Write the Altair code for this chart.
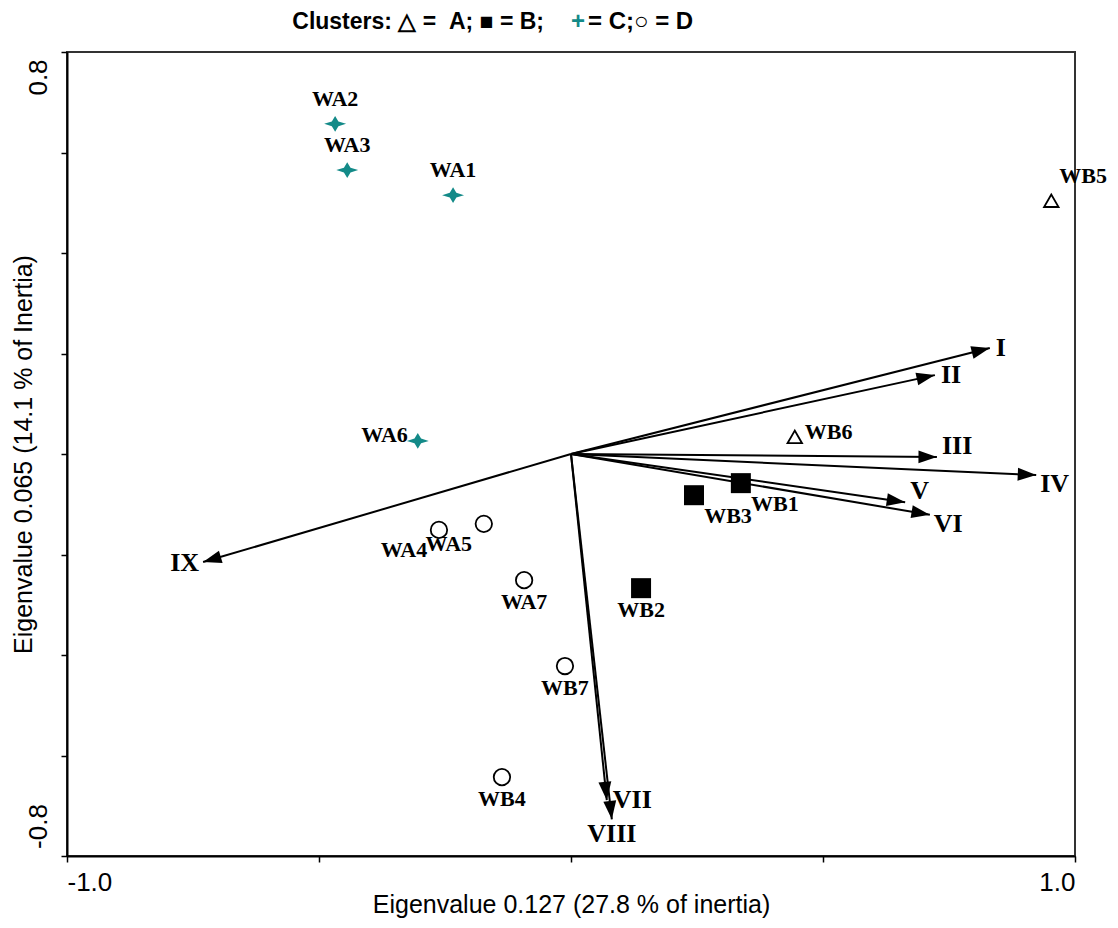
import altair as alt
import pandas as pd
import numpy as np

# ---------------- data ----------------
obs_names = ["WA1", "WA2", "WA3", "WA4", "WA5", "WA6", "WA7",
             "WB1", "WB2", "WB3", "WB4", "WB5", "WB6", "WB7"]
obs_x = [-0.234, -0.468, -0.444, -0.262, -0.173, -0.304, -0.093,
         0.337, 0.139, 0.244, -0.137, 0.953, 0.444, -0.012]
obs_y = [0.515, 0.657, 0.565, -0.151, -0.139, 0.026, -0.251,
         -0.058, -0.267, -0.082, -0.643, 0.504, 0.034, -0.422]
obs_cluster = ["C", "C", "C", "D", "D", "C", "D",
               "B", "B", "B", "D", "A", "A", "D"]
obs_label_pos = ["above", "above", "above", "belowleft", "belowleft", "left", "below",
                 "belowright", "below", "belowright", "below", "aboveright", "right", "below"]

var_names = ["I", "II", "III", "IV", "V", "VI", "VII", "VIII", "IX"]
var_x = [0.831, 0.722, 0.726, 0.923, 0.663, 0.712, 0.071, 0.081, -0.730]
var_y = [0.211, 0.157, -0.006, -0.042, -0.096, -0.121, -0.689, -0.727, -0.215]
var_label_pos = ["right", "right", "rightup", "rightdown", "rightup", "rightdown",
                 "right", "below", "left"]

x_ticks = [-1.0, -0.5, 0.0, 0.5, 1.0]
y_ticks = [-0.8, -0.6, -0.4, -0.2, 0.0, 0.2, 0.4, 0.6, 0.8]

title_parts = ["Clusters:\u00a0\u25b3\u00a0=\u00a0\u00a0A;\u00a0\u25a0\u00a0=\u00a0B;", "+", "=\u00a0C;\u25cb\u00a0=\u00a0D"]
x_title = "Eigenvalue 0.127 (27.8 % of inertia)"
y_title = "Eigenvalue 0.065 (14.1 % of Inertia)"

# ---------------- layout / style ----------------
W, H = 1008, 804
XD = [-1.0, 1.0]
YD = [-0.8, 0.8]
TEAL = "#138a88"

obs = pd.DataFrame({"name": obs_names, "x": obs_x, "y": obs_y,
                    "cluster": obs_cluster, "pos": obs_label_pos})
vars_df = pd.DataFrame({"name": var_names, "x": var_x, "y": var_y, "pos": var_label_pos})
vars_df["x0"] = 0.0
vars_df["y0"] = 0.0
sx = W / (XD[1] - XD[0])
sy = H / (YD[1] - YD[0])
vars_df["angle"] = np.mod(-np.degrees(np.arctan2(vars_df["y"] * sy, vars_df["x"] * sx)), 360)

xs = alt.Scale(domain=XD, nice=False, zero=False)
ys = alt.Scale(domain=YD, nice=False, zero=False)

x_axis = alt.Axis(
    values=x_ticks,
    labelExpr="datum.value == -1 ? '-1.0' : (datum.value == 1 ? '1.0' : '')",
    labelFlush=True, grid=False, domainColor="black", domainWidth=2,
    tickColor="black", tickWidth=1.5, tickSize=6,
    labelFont="Liberation Sans", labelFontSize=26, labelColor="black", labelPadding=7,
    titleFont="Liberation Sans", titleFontSize=25, titleFontWeight="normal",
    titleColor="black", titleBaseline="bottom", titleY=61,
)
y_axis = alt.Axis(
    values=y_ticks,
    labelExpr="datum.value == 0.8 ? '0.8' : (datum.value == -0.8 ? '-0.8' : '')",
    labelAngle=270, grid=False, domainColor="black", domainWidth=2,
    tickColor="black", tickWidth=1.5, tickSize=6,
    labelFont="Liberation Sans", labelFontSize=26, labelColor="black", labelPadding=10,
    labelOffset={"condition": {"test": "datum.value > 0", "value": 25}, "value": -30},
    titleFont="Liberation Sans", titleFontSize=25, titleFontWeight="normal",
    titleColor="black", titleX=-31, titleY=H / 2, titleAngle=270,
)

X = alt.X("x:Q", scale=xs, axis=x_axis, title=x_title)
Y = alt.Y("y:Q", scale=ys, axis=y_axis, title=y_title)

layers = []

# arrows (lines)
layers.append(
    alt.Chart(vars_df).mark_rule(color="black", strokeWidth=2).encode(
        x=alt.X("x0:Q", scale=xs, axis=x_axis, title=x_title),
        y=alt.Y("y0:Q", scale=ys, axis=y_axis, title=y_title),
        x2="x:Q", y2="y:Q",
    )
)
# arrowheads
ARROW = "M0,0L-2,-0.7L-2,0.7Z"
layers.append(
    alt.Chart(vars_df).mark_point(shape=ARROW, filled=True, color="black",
                                  opacity=1, size=340, strokeWidth=0).encode(
        x=X, y=Y, angle=alt.Angle("angle:Q", scale=None)
    )
)

# observation markers
SPARKLE = "M0,-0.72L0.3,-0.22L1,0L0.3,0.22L0,0.72L-0.3,0.22L-1,0L-0.3,-0.22Z"
marker_style = {
    "A": dict(shape="triangle-up", filled=False, color="black", size=210, strokeWidth=1.8),
    "B": dict(shape="square", filled=True, color="black", size=400),
    "C": dict(shape=SPARKLE, filled=True, color=TEAL, size=480),
    "D": dict(shape="circle", filled=False, color="black", size=270, strokeWidth=1.8),
}
for cl, st in marker_style.items():
    layers.append(
        alt.Chart(obs).transform_filter(alt.datum.cluster == cl)
        .mark_point(opacity=1, **st).encode(x=X, y=Y)
    )

# observation labels
obs_offsets = {
    "above": ("center", 0, -25),
    "below": ("center", 0, 22),
    "belowleft": ("center", -35, 20),
    "belowright": ("center", 34, 21),
    "left": ("right", -10, -6),
    "right": ("left", 10, -5),
    "aboveright": ("left", 8, -25),
}
for p, (al, dx, dy) in obs_offsets.items():
    layers.append(
        alt.Chart(obs).transform_filter(alt.datum.pos == p)
        .mark_text(align=al, baseline="middle", dx=dx, dy=dy, font="Liberation Serif",
                   fontWeight="bold", fontSize=22, color="black")
        .encode(x=X, y=Y, text="name:N")
    )

# variable labels
var_offsets = {
    "right": ("left", 6, 0),
    "rightup": ("left", 5, -11),
    "rightdown": ("left", 4, 9),
    "below": ("center", 0, 15),
    "left": ("right", -4, 1),
}
for p, (al, dx, dy) in var_offsets.items():
    layers.append(
        alt.Chart(vars_df).transform_filter(alt.datum.pos == p)
        .mark_text(align=al, baseline="middle", dx=dx, dy=dy, font="Liberation Serif",
                   fontWeight="bold", fontSize=26, color="black")
        .encode(x=X, y=Y, text="name:N")
    )

# title (composed so the cluster-C symbol can be teal)
one = alt.Data(values=[{"k": 1}])
title_y = -23
layers.append(alt.Chart(one).mark_text(
    text=title_parts[0], align="right", baseline="alphabetic", font="Liberation Sans",
    fontWeight="bold", fontSize=23, color="black").encode(
    x=alt.value(477), y=alt.value(title_y)))
layers.append(alt.Chart(one).mark_text(
    text=title_parts[1], align="center", baseline="alphabetic", font="Liberation Sans",
    fontWeight="bold", fontSize=24, color=TEAL).encode(
    x=alt.value(511), y=alt.value(title_y)))
layers.append(alt.Chart(one).mark_text(
    text=title_parts[2], align="left", baseline="alphabetic", font="Liberation Sans",
    fontWeight="bold", fontSize=24, color="black").encode(
    x=alt.value(521), y=alt.value(title_y)))

chart = alt.layer(*layers).properties(
    width=W, height=H,
    autosize=alt.AutoSizeParams(type="none"),
    padding={"left": 59, "top": 44, "right": 35, "bottom": 62},
    background="white",
).configure_view(stroke="#333", strokeWidth=2)

chart.save("out.html", embed_options={"renderer": "svg", "actions": False})
